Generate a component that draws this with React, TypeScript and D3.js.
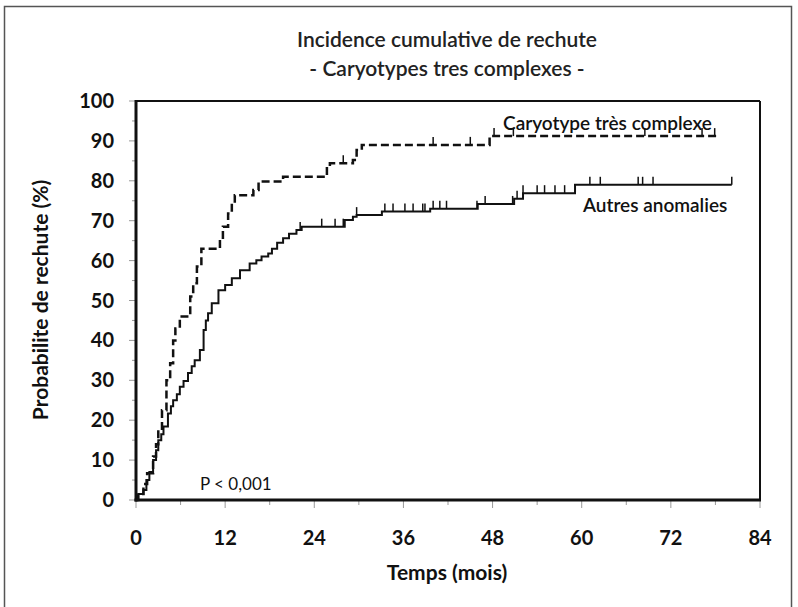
import React from "react";
import * as d3 from "d3";

const title1 = "Incidence cumulative de rechute";
const title2 = "- Caryotypes tres complexes -";
const yLabel = "Probabilite de rechute (%)";
const xLabel = "Temps (mois)";
const pLabel = "P < 0,001";
const seriesNames = ["Caryotype très complexe", "Autres anomalies"];

const xTicks = [0, 12, 24, 36, 48, 60, 72, 84];
const yTicks = [0, 10, 20, 30, 40, 50, 60, 70, 80, 90, 100];

// Step events (time in months, cumulative incidence %)
const complexTimes = [0, 0.3, 1.0, 1.5, 2.3, 2.7, 3.0, 3.5, 4.1, 4.6, 5.0, 5.3, 5.9, 7.3, 7.7, 8.2, 8.8, 11.3, 11.7, 12.4, 12.9, 13.3, 15.8, 16.5, 19.8, 25.7, 26.1, 29.2, 29.7, 30.4, 47.6];
const complexValues = [0, 1.5, 4, 6.7, 10.9, 14, 17.5, 22.5, 30, 34.3, 40, 43, 46, 51, 54.3, 58.5, 63, 65.2, 68.5, 71.8, 74.8, 76.4, 77.7, 79.8, 81, 83.5, 84.4, 85.2, 87.7, 89, 91.2];
const complexEnd = 78.3;
const complexCensor = [27.9, 40, 45, 48.2, 50.8, 68.5, 76.2, 77.9];

const otherTimes = [0, 0.3, 1.0, 1.4, 1.8, 2.3, 2.7, 3.0, 3.4, 3.7, 4.3, 4.7, 5.0, 5.5, 5.9, 6.4, 7.0, 7.5, 7.9, 8.6, 9.1, 9.4, 9.7, 10.2, 11.1, 12.0, 12.9, 14.0, 15.3, 16.2, 16.9, 17.8, 18.3, 19.0, 19.8, 20.6, 21.6, 22.3, 28.1, 29.2, 29.7, 33.1, 39.6, 46.0, 50.9, 52.1, 59.1];
const otherValues = [0, 1.5, 2.5, 5, 7, 10, 12.5, 15, 16.5, 18.4, 21.7, 23.5, 25, 26.5, 28.4, 29.8, 31.8, 33.5, 35, 37.6, 42.6, 45, 46.8, 49.3, 52.6, 53.9, 55.6, 57.6, 59.3, 60.1, 61, 61.8, 63, 64.5, 65.6, 66.7, 67.7, 68.5, 70.2, 71, 71.4, 72.3, 73, 74.2, 75.5, 76.9, 79];
const otherEnd = 80.2;
const otherCensor = [22.1, 25, 26.8, 27.9, 29.7, 33.5, 34.6, 36.2, 37.3, 38.6, 38.9, 40, 40.9, 41.8, 45.9, 47, 50.7, 51.3, 52.1, 54, 55, 56.4, 57.7, 61.1, 62.5, 67.6, 68.2, 69.6, 80.2];

const W = 798;
const H = 607;
const L = 136, R = 760, T = 101, B = 500;
const FONT = "Lato, 'Open Sans', sans-serif";

export default function App() {
  const x = d3.scaleLinear().domain([0, 84]).range([L, R]);
  const y = d3.scaleLinear().domain([0, 100]).range([B, T]);

  const mk = (ts: number[], vs: number[], end: number) => {
    const pts: [number, number][] = ts.map((t, i) => [t, vs[i]]);
    pts.push([end, vs[vs.length - 1]]);
    return pts;
  };
  const valAt = (ts: number[], vs: number[], t: number) => {
    let v = vs[0];
    for (let i = 0; i < ts.length; i++) if (ts[i] <= t) v = vs[i];
    return v;
  };
  const line = d3
    .line<[number, number]>()
    .x((d) => x(d[0]))
    .y((d) => y(d[1]))
    .curve(d3.curveStepAfter);

  const complexPath = line(mk(complexTimes, complexValues, complexEnd)) || "";
  const otherPath = line(mk(otherTimes, otherValues, otherEnd)) || "";

  const minorY = d3.range(0, 101, 5);
  const minorX = d3.range(0, 85, 6);

  return (
    <svg width={W} height={H} style={{ position: "absolute", left: 0, top: 0, background: "#fff" }} fontFamily={FONT}>
      <rect x={0} y={0} width={W} height={H} fill="#fff" />
      <rect x={4.5} y={6.5} width={787} height={700} fill="none" stroke="#555" strokeWidth={1.5} />

      <text x={447} y={47} textAnchor="middle" fontSize={21} fontWeight={600} fill="#222">{title1}</text>
      <text x={447} y={76} textAnchor="middle" fontSize={21} fontWeight={600} fill="#222">{title2}</text>

      {/* minor ticks */}
      {minorY.map((v) => (
        <line key={"my" + v} x1={x(0) - (v % 10 === 0 ? 7 : 4)} x2={x(0)} y1={y(v)} y2={y(v)} stroke="#999" strokeWidth={1} />
      ))}
      {minorX.map((v) => (
        <line key={"mx" + v} x1={x(v)} x2={x(v)} y1={y(0)} y2={y(0) + (v % 12 === 0 ? 8 : 5)} stroke="#999" strokeWidth={1} />
      ))}

      {/* frame */}
      <line x1={L} x2={R} y1={T} y2={T} stroke="#111" strokeWidth={2} />
      <line x1={R} x2={R} y1={T} y2={B} stroke="#111" strokeWidth={2} />
      <line x1={L} x2={L} y1={T - 1} y2={B + 1.5} stroke="#111" strokeWidth={3} />
      <line x1={L - 1.5} x2={R + 1} y1={B} y2={B} stroke="#111" strokeWidth={3} />

      {yTicks.map((v) => (
        <text key={"yt" + v} x={114} y={y(v) + 7} textAnchor="end" fontSize={20} fontWeight={700} fill="#111">{v}</text>
      ))}
      {xTicks.map((v) => (
        <text key={"xt" + v} x={x(v)} y={545} textAnchor="middle" fontSize={20} fontWeight={700} fill="#111">{v}</text>
      ))}

      <text transform={`translate(48,300) rotate(-90)`} textAnchor="middle" fontSize={21} fontWeight={700} fill="#111">{yLabel}</text>
      <text x={447} y={580} textAnchor="middle" fontSize={21} fontWeight={700} fill="#111">{xLabel}</text>
      <text x={200} y={490} fontSize={17} fill="#111">{pLabel}</text>

      {/* curves */}
      <path d={otherPath} fill="none" stroke="#111" strokeWidth={2} />
      <path d={complexPath} fill="none" stroke="#111" strokeWidth={2.5} strokeDasharray="8,4" />

      {otherCensor.map((t, i) => {
        const v = valAt(otherTimes, otherValues, t);
        return <line key={"oc" + i} x1={x(t)} x2={x(t)} y1={y(v)} y2={y(v) - 8} stroke="#111" strokeWidth={1.5} />;
      })}
      {complexCensor.map((t, i) => {
        const v = valAt(complexTimes, complexValues, t);
        return <line key={"cc" + i} x1={x(t)} x2={x(t)} y1={y(v)} y2={y(v) - 8} stroke="#111" strokeWidth={1.5} />;
      })}

      <text x={503} y={130} fontSize={19} fontWeight={600} fill="#111">{seriesNames[0]}</text>
      <text x={583} y={212} fontSize={19} fontWeight={600} fill="#111">{seriesNames[1]}</text>
    </svg>
  );
}
